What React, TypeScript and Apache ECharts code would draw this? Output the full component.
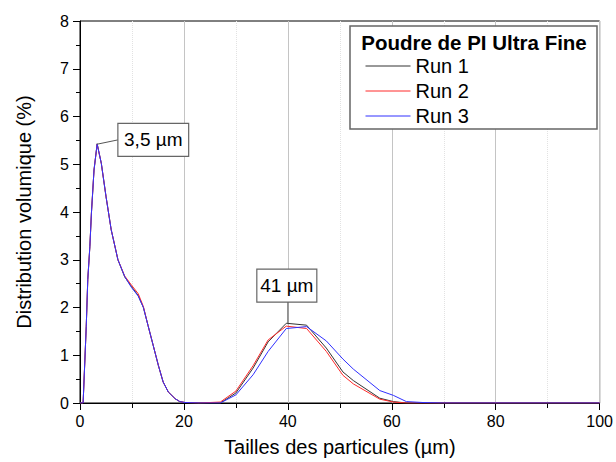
import React, { useEffect, useRef } from "react";
import * as echarts from "echarts";

const sizes = [0, 0.6, 1.2, 1.5, 1.9, 2.2, 2.7, 3.3, 4.1, 5.0, 6.0, 7.3, 8.6, 9.9, 11.2, 12.2, 13.1, 14.1, 15.1, 16.0, 17.0, 18.3, 19.2, 20.2, 23, 27, 30, 33.3, 36.2, 39.7, 43.6, 47.4, 50.6, 52.6, 57.7, 60.3, 62.8, 66, 70, 80, 90, 100];
const run1 = [0, 0, 1.6, 2.59, 3.28, 3.98, 4.88, 5.43, 5.02, 4.33, 3.63, 3.0, 2.64, 2.44, 2.25, 2.0, 1.62, 1.2, 0.78, 0.44, 0.23, 0.09, 0.03, 0.01, 0, 0, 0.21, 0.73, 1.28, 1.67, 1.63, 1.15, 0.65, 0.47, 0.1, 0.03, 0, 0, 0, 0, 0, 0];
const run2 = [0, 0, 1.6, 2.59, 3.28, 3.98, 4.88, 5.42, 5.02, 4.33, 3.63, 3.0, 2.66, 2.47, 2.29, 2.02, 1.62, 1.2, 0.78, 0.44, 0.23, 0.09, 0.03, 0.01, 0, 0.02, 0.25, 0.78, 1.32, 1.61, 1.56, 1.08, 0.58, 0.4, 0.08, 0.02, 0, 0, 0, 0, 0, 0];
const run3 = [0, 0, 1.6, 2.59, 3.28, 3.98, 4.88, 5.42, 5.02, 4.33, 3.63, 3.0, 2.65, 2.42, 2.24, 2.0, 1.62, 1.2, 0.78, 0.44, 0.23, 0.09, 0.03, 0.01, 0, 0, 0.17, 0.59, 1.08, 1.56, 1.6, 1.3, 0.92, 0.71, 0.26, 0.16, 0.03, 0.01, 0, 0, 0, 0];
const runNames = ["Run 1", "Run 2", "Run 3"];
const runColors = ["#333333", "#ff2a2a", "#3030ff"];
const legendTitle = "Poudre de PI Ultra Fine";
const xTitle = "Tailles des particules (µm)";
const yTitle = "Distribution volumique (%)";
const annotations = [
  { text: "3,5 µm", anchor: [3.3, 5.42], box: [14.1, 5.51], edge: "left" },
  { text: "41 µm", anchor: [40, 1.65], box: [39.8, 2.46], edge: "bottom" },
];

const FONT = "'Liberation Sans', Arial, sans-serif";

export default function App() {
  const ref = useRef<HTMLDivElement>(null);
  useEffect(() => {
    if (!ref.current) return;
    const chart = echarts.init(ref.current, null, { renderer: "svg" });
    const runs = [run1, run2, run3];
    chart.setOption({
      animation: false,
      textStyle: { fontFamily: FONT },
      grid: { left: 80, right: 16, top: 21, bottom: 58, show: true, borderColor: "#000", borderWidth: 1, backgroundColor: "transparent" },
      legend: {
        orient: "vertical",
        left: 360,
        top: 50,
        itemWidth: 45,
        itemHeight: 14,
        itemGap: 3,
        z: 30,
        itemStyle: { opacity: 0 },
        lineStyle: { width: 1 },
        textStyle: { fontSize: 20, color: "#000", fontFamily: FONT, lineHeight: 22, height: 22 },
        data: runNames.map((n, i) => ({
          name: n,
          itemStyle: { color: runColors[i], opacity: 0 },
          lineStyle: { color: runColors[i], width: 1 },
        })),
      },
      xAxis: {
        type: "value",
        min: 0,
        max: 100,
        interval: 20,
        name: xTitle,
        nameLocation: "middle",
        nameGap: 34,
        nameTextStyle: { fontSize: 20, color: "#000", fontFamily: FONT },
        axisLine: { lineStyle: { color: "#000", width: 1 } },
        axisTick: { show: true, length: 7, lineStyle: { color: "#000" } },
        minorTick: { show: true, splitNumber: 2, length: 5, lineStyle: { color: "#000" } },
        axisLabel: { fontSize: 16, color: "#000", margin: 10, fontFamily: FONT },
        splitLine: { show: true, lineStyle: { color: "#c4c4c4", width: 1 } },
        minorSplitLine: { show: true, lineStyle: { color: "#e2e2e2", type: "dotted", width: 1 } },
      },
      yAxis: {
        type: "value",
        min: 0,
        max: 8,
        interval: 1,
        name: yTitle,
        nameLocation: "middle",
        nameGap: 46,
        nameTextStyle: { fontSize: 20, color: "#000", fontFamily: FONT },
        axisLine: { show: true, lineStyle: { color: "#000", width: 1 } },
        axisTick: { show: true, length: 7, lineStyle: { color: "#000" } },
        minorTick: { show: true, splitNumber: 2, length: 4, lineStyle: { color: "#000" } },
        axisLabel: { fontSize: 16, color: "#000", margin: 11, fontFamily: FONT },
        splitLine: { show: false },
      },
      series: runs.map((r, i) => ({
        name: runNames[i],
        type: "line",
        symbol: "none",
        data: sizes.map((s, j) => [s, r[j]]),
        lineStyle: { color: runColors[i], width: 1 },
        itemStyle: { color: runColors[i] },
        z: 2 + i,
      })),
    });

    const graphics: any[] = [];
    graphics.push({
      type: "rect",
      shape: { x: 350, y: 26, width: 247, height: 103 },
      style: { fill: "#fff", stroke: "#666", lineWidth: 1.5 },
      z: 10,
    });
    graphics.push({
      type: "text",
      x: 474,
      y: 42,
      style: { text: legendTitle, fontSize: 20.5, fontWeight: "bold", fontFamily: FONT, fill: "#000", align: "center", verticalAlign: "middle" },
      z: 11,
    });
    annotations.forEach((a) => {
      const p = chart.convertToPixel({ gridIndex: 0 }, a.anchor) as number[];
      const c = chart.convertToPixel({ gridIndex: 0 }, a.box) as number[];
      const w = a.text.length * 10.8 + 6;
      const h = 33;
      const end = a.edge === "left" ? [c[0] - w / 2, c[1]] : [p[0], c[1] + h / 2];
      graphics.push({
        type: "line",
        shape: { x1: p[0], y1: p[1], x2: end[0], y2: end[1] },
        style: { stroke: "#555", lineWidth: 1 },
        z: 60,
      });
      graphics.push({
        type: "rect",
        shape: { x: c[0] - w / 2, y: c[1] - h / 2, width: w, height: h },
        style: { fill: "#fff", stroke: "#666", lineWidth: 1.2 },
        z: 61,
      });
      graphics.push({
        type: "text",
        x: c[0],
        y: c[1],
        style: { text: a.text, fontSize: 19, fontFamily: FONT, fill: "#000", align: "center", verticalAlign: "middle" },
        z: 62,
      });
    });
    chart.setOption({ graphic: graphics });
    return () => chart.dispose();
  }, []);
  return <div ref={ref} style={{ width: 616, height: 462, position: "absolute", left: 0, top: 0, background: "#fff" }} />;
}
